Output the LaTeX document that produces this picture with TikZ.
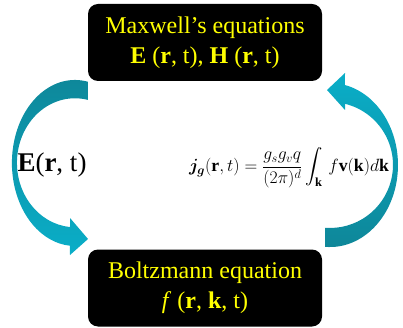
\RequirePackage{fix-cm}
\documentclass[tikz,border=0pt]{standalone}
\usepackage{amsmath,bm}
\usepackage{fontspec}
\setmainfont{Liberation Serif}
\definecolor{tealdark}{RGB}{14,134,152}
\definecolor{teallight}{RGB}{10,174,200}
\definecolor{boxtext}{RGB}{255,255,0}
\tikzset{
  eqbox/.style={fill=black, rounded corners=10pt, minimum width=234pt, minimum height=77pt,
    inner sep=0pt, align=center, text=boxtext, font=\fontsize{24}{30}\selectfont},
}
\begin{document}
\begin{tikzpicture}[x=1pt,y=-1pt]
\useasboundingbox (0,0) rectangle (403,328);
% left curved arrow
\path[top color=tealdark, bottom color=teallight]
  (88,99.7) -- (88,81.8)
  arc[start angle=-78, end angle=-265.5, x radius=63, y radius=83]
  -- (70,255) -- (88,239) -- (70,218) -- (70,227)
  arc[start angle=-265.1, end angle=-77, x radius=58, y radius=64.5] -- cycle;
% right curved arrow
\path[top color=teallight, bottom color=tealdark]
  (325,227.8) -- (325,246.8)
  arc[start angle=94.2, end angle=-77.3, x radius=68, y radius=82]
  -- (345,73) -- (327,90) -- (345,110) -- (345,103.8)
  arc[start angle=-76.2, end angle=94.55, x radius=63, y radius=63] -- cycle;
\node[eqbox] (maxwell) at (205,42.5) {Maxwell’s equations\\\textbf{E} (\textbf{r}, t), \textbf{H} (\textbf{r}, t)};
\node[eqbox] (boltz) at (205,288) {Boltzmann equation\\\textit{f} (\textbf{r}, \textbf{k}, t)};
\node[font=\fontsize{27}{30}\selectfont] (efield) at (52,165) {\textbf{E}(\textbf{r}, t)};
\node[font=\fontsize{17.7}{21}\selectfont, inner sep=0pt] (curr) at (289,168)
  {$\displaystyle \bm{j}_{\bm{g}}(\mathbf{r},t)=\frac{g_s g_v q}{(2\pi)^d}\int_{\mathbf{k}}\, f\mathbf{v}(\mathbf{k})d\mathbf{k}$};
\end{tikzpicture}
\end{document}
